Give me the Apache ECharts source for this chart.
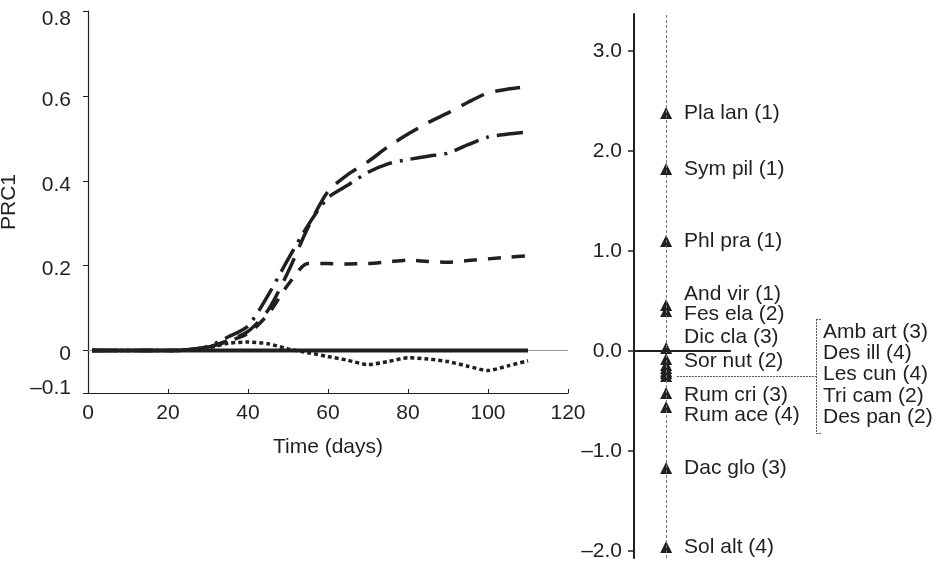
<!DOCTYPE html>
<html>
<head>
<meta charset="utf-8">
<script src="https://cdn.jsdelivr.net/npm/echarts@6/dist/echarts.min.js"></script>
<style>
  html, body { margin: 0; padding: 0; background: #fff; }
  #chart { width: 936px; height: 563px; }
</style>
</head>
<body>
<div id="chart"></div>
<script>
// left panel: principal response curves
var days = [1, 5, 10, 15, 20, 25, 30, 35, 40, 45, 50, 55, 60, 65, 70, 75, 80, 85, 90, 95, 100, 105, 110];
var control = [0, 0, 0, 0, 0, 0, 0, 0, 0, 0, 0, 0, 0, 0, 0, 0, 0, 0, 0, 0, 0, 0, 0];
var longDash = [0, 0, 0, 0, 0, 0.002, 0.008, 0.024, 0.045, 0.095, 0.185, 0.29, 0.375, 0.415, 0.445, 0.48, 0.51, 0.537, 0.56, 0.585, 0.607, 0.616, 0.622];
var dashDot = [0, 0, 0, 0, 0, 0.002, 0.01, 0.032, 0.058, 0.13, 0.215, 0.295, 0.36, 0.39, 0.42, 0.44, 0.45, 0.458, 0.465, 0.485, 0.503, 0.51, 0.515];
var shortDash = [0, 0, 0, 0, 0, 0.002, 0.008, 0.022, 0.04, 0.085, 0.155, 0.205, 0.205, 0.204, 0.205, 0.209, 0.213, 0.21, 0.208, 0.212, 0.216, 0.22, 0.223];
var dotted = [0, 0, 0, 0, 0, 0.001, 0.006, 0.017, 0.02, 0.016, 0.004, -0.005, -0.014, -0.023, -0.033, -0.026, -0.017, -0.02, -0.026, -0.037, -0.047, -0.036, -0.024];
var prcTicks = [-0.1, 0, 0.2, 0.4, 0.6, 0.8];

// right panel: species weights
var species = ['Pla lan (1)', 'Sym pil (1)', 'Phl pra (1)', 'And vir (1)', 'Fes ela (2)', 'Dic cla (3)',
  'Sor nut (2)', 'Rum cri (3)', 'Rum ace (4)', 'Dac glo (3)', 'Sol alt (4)'];
var weights = [2.38, 1.82, 1.10, 0.46, 0.40, 0.03, -0.08, -0.42, -0.56, -1.17, -1.96];
var clusterSpecies = ['Amb art (3)', 'Des ill (4)', 'Les cun (4)', 'Tri cam (2)', 'Des pan (2)'];
var clusterWeights = [-0.14, -0.17, -0.20, -0.22, -0.25];
var weightTicks = [-2, -1, 0, 1, 2, 3];

var ink = '#231f20';
var font = 'Liberation Sans, Arial, sans-serif';
var fs = 21;

function pairs(xs, ys) {
  return xs.map(function (x, i) { return [x, ys[i]]; });
}
function fmt(v, digits) {
  var s = Math.abs(v).toFixed(digits);
  return v < 0 ? '\u2013' + s : s;
}

// label nudges (px) so the names don't collide
var nudge = { 'And vir (1)': -11, 'Fes ela (2)': 3, 'Dic cla (3)': -11, 'Sor nut (2)': 2, 'Rum cri (3)': 2, 'Rum ace (4)': 8 };
var colX = 10.7;    // column of triangles on the right panel
var bracketX = 60.7;

function curve(name, vals, dash, width) {
  return {
    name: name, type: 'line', xAxisIndex: 0, yAxisIndex: 0,
    data: pairs(days, vals), showSymbol: false, smooth: 0.25,
    lineStyle: { color: ink, width: width, type: dash, cap: 'butt' },
    z: 3
  };
}

var chart = echarts.init(document.getElementById('chart'));
chart.setOption({
  animation: false,
  textStyle: { fontFamily: font, color: ink },
  grid: [
    { left: 88, top: 11, width: 480, height: 382, outerBoundsMode: 'none', containLabel: false },
    { left: 634, top: 14, width: 300, height: 544, outerBoundsMode: 'none', containLabel: false }
  ],
  xAxis: [
    {
      gridIndex: 0, type: 'value', min: 0, max: 120, interval: 20,
      name: 'Time (days)', nameLocation: 'middle', nameGap: 44,
      nameTextStyle: { fontSize: fs, color: ink, fontFamily: font },
      axisLine: { onZero: false, lineStyle: { color: ink, width: 1.2 } },
      axisTick: { inside: true, length: 4, lineStyle: { color: ink } },
      axisLabel: { fontSize: fs, color: ink, margin: 10 },
      splitLine: { show: false }
    },
    { gridIndex: 1, type: 'value', min: 0, max: 100, show: false }
  ],
  yAxis: [
    {
      gridIndex: 0, type: 'value', min: -0.1, max: 0.8,
      name: 'PRC1', nameLocation: 'middle', nameGap: 59, nameRotate: 90,
      nameTextStyle: { fontSize: fs, color: ink, fontFamily: font },
      axisLine: { show: true, onZero: false, lineStyle: { color: ink, width: 1.2 } },
      axisTick: { show: true, length: 5, customValues: prcTicks, lineStyle: { color: ink } },
      axisLabel: {
        fontSize: fs, color: ink, margin: 17, customValues: prcTicks,
        formatter: function (v) {
          var s = v === 0 ? '0' : fmt(v, 1);
          if (v >= 0.75) return '{t|' + s + '}';
          if (v < 0) return '{b|' + s + '}';
          return '{m|' + s + '}';
        },
        rich: {
          t: { fontSize: fs, color: ink, padding: [16, 0, 0, 0] },
          m: { fontSize: fs, color: ink, padding: [8, 0, 0, 0] },
          b: { fontSize: fs, color: ink, padding: [0, 0, 10, 0] }
        }
      },
      splitLine: { show: false }
    },
    {
      gridIndex: 1, type: 'value', min: -2.07, max: 3.37,
      axisLine: { show: true, onZero: false, lineStyle: { color: ink, width: 2 } },
      axisTick: { show: true, length: 6, customValues: weightTicks, lineStyle: { color: ink, width: 1.5 } },
      axisLabel: {
        fontSize: fs, color: ink, margin: 12, customValues: weightTicks,
        formatter: function (v) { return fmt(v, 1); }
      },
      splitLine: { show: false }
    }
  ],
  series: [
    {
      name: 'control', type: 'line', xAxisIndex: 0, yAxisIndex: 0,
      data: pairs(days, control), showSymbol: false,
      lineStyle: { color: ink, width: 4 }, z: 4,
      markLine: {
        silent: true, symbol: 'none', label: { show: false },
        lineStyle: { color: '#999', width: 1, type: 'solid' },
        data: [{ yAxis: 0 }], z: 1
      }
    },
    curve('long dash', longDash, [25, 12], 3.5),
    curve('dash dot', dashDot, [26, 8, 3, 8], 3.5),
    curve('short dash', shortDash, [13, 11], 3.5),
    curve('dotted', dotted, [4, 3], 3.5),
    {
      name: 'guides', type: 'scatter', xAxisIndex: 1, yAxisIndex: 1, data: [],
      markLine: {
        silent: true, symbol: 'none', label: { show: false },
        data: [
          { xAxis: colX, lineStyle: { color: '#777', width: 1, type: [3, 2] } },
          [{ coord: [0, 0] }, { coord: [32.3, 0], lineStyle: { color: ink, width: 2, type: 'solid' } }],
          [{ coord: [14.3, -0.25] }, { coord: [bracketX, -0.25], lineStyle: { color: '#555', width: 1, type: [2, 1] } }],
          [{ coord: [bracketX, 0.32] }, { coord: [bracketX, -0.82], lineStyle: { color: '#555', width: 1, type: [2, 1] } }],
          [{ coord: [bracketX, 0.32] }, { coord: [bracketX + 2, 0.32], lineStyle: { color: '#555', width: 1, type: [2, 1] } }],
          [{ coord: [bracketX, -0.82] }, { coord: [bracketX + 2, -0.82], lineStyle: { color: '#555', width: 1, type: [2, 1] } }]
        ]
      },
      z: 1
    },
    {
      name: 'cluster', type: 'scatter', xAxisIndex: 1, yAxisIndex: 1,
      symbol: 'triangle', symbolSize: [12, 12], itemStyle: { color: ink, opacity: 1 },
      data: clusterWeights.map(function (w) { return [colX, w]; }), z: 3
    },
    {
      name: 'species', type: 'scatter', xAxisIndex: 1, yAxisIndex: 1,
      symbol: 'triangle', symbolSize: [12, 12], itemStyle: { color: ink, opacity: 1 },
      data: weights.map(function (w, i) {
        return {
          value: [colX, w], name: species[i],
          label: { offset: [0, nudge[species[i]] || 0] }
        };
      }),
      label: {
        show: true, position: 'right', distance: 12, fontSize: fs, color: ink,
        fontFamily: font, formatter: '{b}'
      },
      z: 3
    },
    {
      name: 'cluster labels', type: 'scatter', xAxisIndex: 1, yAxisIndex: 1,
      symbolSize: 0, silent: true, itemStyle: { opacity: 1 },
      data: clusterSpecies.map(function (s, i) {
        return { value: [bracketX + 2.3, 0.19 - i * 0.213], name: s };
      }),
      label: {
        show: true, position: 'right', distance: 0, fontSize: fs, color: ink,
        fontFamily: font, formatter: '{b}'
      }
    }
  ]
});
</script>
</body>
</html>
